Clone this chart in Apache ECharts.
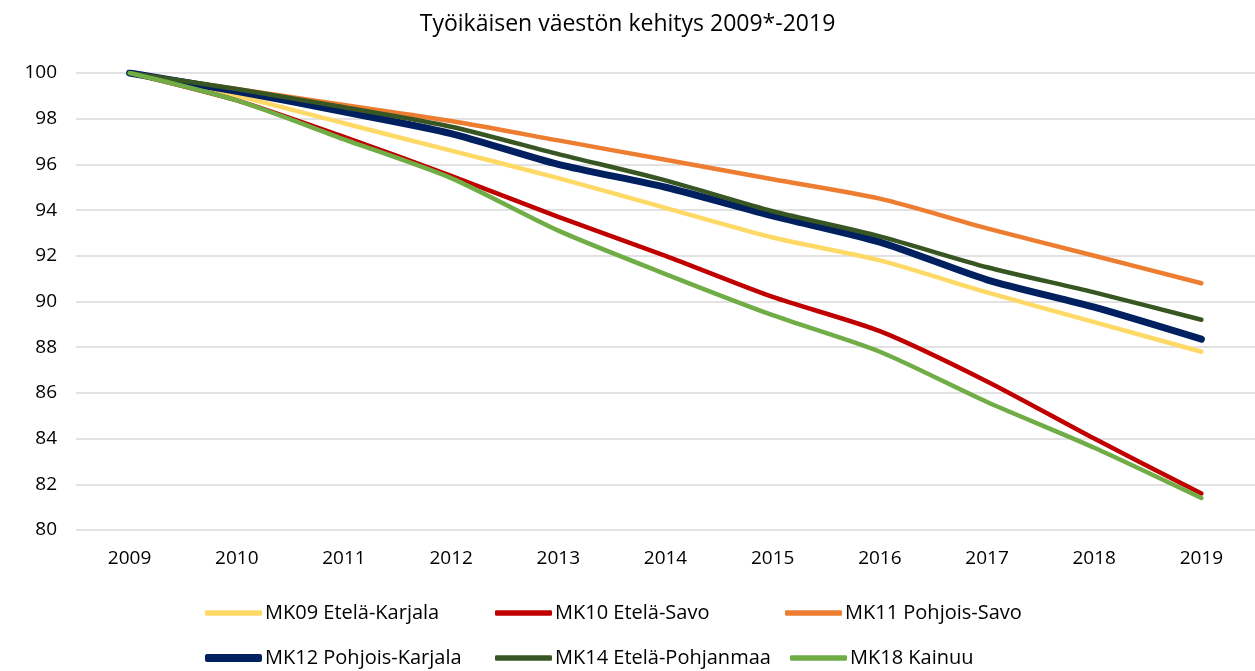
<!DOCTYPE html>
<html>
<head>
<meta charset="utf-8">
<script src="https://cdn.jsdelivr.net/npm/echarts@6/dist/echarts.min.js"></script>
<style>
  html, body { margin: 0; padding: 0; background: #fff; }
  #chart { width: 1255px; height: 671px; }
</style>
</head>
<body>
<div id="chart"></div>
<script>
// vuodet ja indeksiarvot (2009 = 100)
var years = ['2009', '2010', '2011', '2012', '2013', '2014', '2015', '2016', '2017', '2018', '2019'];
var names = ['MK09 Etelä-Karjala', 'MK10 Etelä-Savo', 'MK11 Pohjois-Savo',
             'MK12 Pohjois-Karjala', 'MK14 Etelä-Pohjanmaa', 'MK18 Kainuu'];
var mk09 = [100, 99.0, 97.8, 96.6, 95.4, 94.1, 92.8, 91.8, 90.4, 89.1, 87.8];
var mk10 = [100, 98.8, 97.2, 95.5, 93.7, 92.0, 90.2, 88.7, 86.5, 84.0, 81.6];
var mk11 = [100, 99.3, 98.6, 97.9, 97.05, 96.2, 95.35, 94.5, 93.2, 92.0, 90.8];
var mk12 = [100, 99.2, 98.3, 97.35, 96.0, 95.0, 93.75, 92.6, 90.95, 89.75, 88.35];
var mk14 = [100, 99.3, 98.5, 97.65, 96.45, 95.3, 93.95, 92.85, 91.5, 90.4, 89.2];
var mk18 = [100, 98.8, 97.1, 95.4, 93.1, 91.2, 89.4, 87.8, 85.6, 83.6, 81.4];
var yTicks = [80, 82, 84, 86, 88, 90, 92, 94, 96, 98, 100];

var colors = ['#ffd966', '#c00000', '#ed7d31', '#002060', '#375623', '#70ad47'];
var widths = [4.5, 4.5, 4.5, 7, 4.5, 4.5];
var values = [mk09, mk10, mk11, mk12, mk14, mk18];

var dom = document.getElementById('chart');
var myChart = echarts.init(dom);
var font = '"Open Sans", "Noto Sans", sans-serif';

var series = [];
var legends = [];
// legendan paikat: 3 saraketta, 2 riviä
var legendPos = [[205, 603], [495, 603], [785, 603], [205, 648], [495, 648], [790, 648]];
for (var i = 0; i < names.length; i++) {
    series.push({
        name: names[i],
        type: 'line',
        data: values[i],
        smooth: 0.25,
        symbol: 'none',
        color: colors[i],
        lineStyle: { width: widths[i], color: colors[i], cap: 'round', join: 'round' }
    });
    legends.push({
        data: [names[i]],
        left: legendPos[i][0],
        top: legendPos[i][1],
        icon: 'roundRect',
        itemWidth: 57,
        itemHeight: widths[i] + 1,
        padding: 0,
        textStyle: { fontFamily: font, fontSize: 20, color: '#000', padding: [0, 0, 0, -2] }
    });
}

var option = {
    animation: false,
    title: {
        text: 'Työikäisen väestön kehitys 2009*-2019',
        left: 'center',
        top: 8,
        textStyle: { fontFamily: font, fontSize: 23, fontWeight: 'normal', color: '#000' }
    },
    legend: legends,
    grid: { left: 76, right: -1, top: 73, bottom: 141 },
    xAxis: {
        type: 'category',
        data: years,
        boundaryGap: true,
        axisLine: { show: false },
        axisTick: { show: false },
        axisLabel: { fontFamily: font, fontSize: 19, color: '#000', margin: 19 }
    },
    yAxis: {
        type: 'value',
        min: yTicks[0],
        max: yTicks[yTicks.length - 1],
        interval: 2,
        axisLine: { show: false },
        axisTick: { show: false },
        axisLabel: { fontFamily: font, fontSize: 19, color: '#000', margin: 19 },
        splitLine: { lineStyle: { color: '#d9d9d9', width: 1.5 } }
    },
    series: series
};

myChart.setOption(option);
</script>
</body>
</html>
